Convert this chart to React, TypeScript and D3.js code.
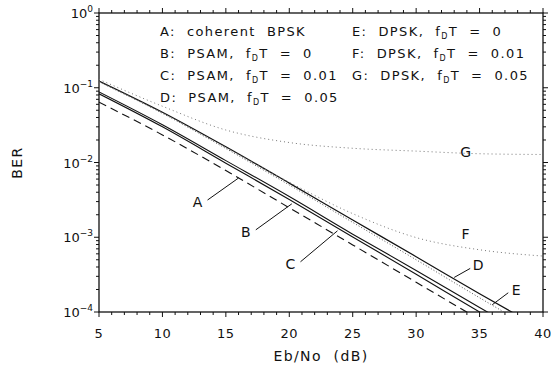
import React from 'react';
import * as d3 from 'd3';

// Eb/No grid (dB) and BER
const ebno = [5, 10, 15, 20, 25, 30, 35, 40];
const berA = [0.064, 0.0234, 0.0078, 0.00248, 0.00079, 0.00025, 0.000079, 0.000025];
const berB = [0.083, 0.030, 0.0098, 0.0032, 0.00101, 0.00032, 0.0001, 0.000032];
const berC = [0.088, 0.032, 0.0106, 0.0035, 0.0011, 0.00036, 0.000115, 0.000037];
const berD = [0.123, 0.047, 0.0162, 0.0053, 0.0017, 0.00055, 0.000175, 0.000058];
const berE = [0.12, 0.0455, 0.0154, 0.005, 0.00158, 0.0005, 0.000155, 0.00005];
const berF = [0.1206, 0.0459, 0.0158, 0.00544, 0.00207, 0.00099, 0.00068, 0.00056];
const berG = [0.1295, 0.0566, 0.0272, 0.0185, 0.0155, 0.0142, 0.0131, 0.0128];

const xTicks = [5, 10, 15, 20, 25, 30, 35, 40];
const yExponents = [0, -1, -2, -3, -4];

const legendLeft = [
  { key: 'A', text: 'coherent  BPSK', fd: null },
  { key: 'B', text: 'PSAM,', fd: '0' },
  { key: 'C', text: 'PSAM,', fd: '0.01' },
  { key: 'D', text: 'PSAM,', fd: '0.05' },
];
const legendRight = [
  { key: 'E', text: 'DPSK,', fd: '0' },
  { key: 'F', text: 'DPSK,', fd: '0.01' },
  { key: 'G', text: 'DPSK,', fd: '0.05' },
];

// label annotations: anchor on curve (dB, BER), label offset in px
const pointers = [
  { label: 'A', db: 16, ber: 0.0062, lx: -41, ly: 24, line: true },
  { label: 'B', db: 20.2, ber: 0.0028, lx: -46, ly: 28, line: true },
  { label: 'C', db: 23.8, ber: 0.00122, lx: -47, ly: 33, line: true },
  { label: 'D', db: 33.0, ber: 0.00029, lx: 24, ly: -12, line: true },
  { label: 'E', db: 36.0, ber: 0.000125, lx: 24, ly: -15, line: true },
  { label: 'F', db: 33.9, ber: 0.0011, lx: 0, ly: 0, line: false },
  { label: 'G', db: 33.9, ber: 0.0138, lx: 0, ly: 0, line: false },
];

const W = 551;
const H = 374;
const m = { left: 99, right: 8, top: 13, bottom: 62 };
const FONT = '"DejaVu Sans", "Liberation Sans", Arial, sans-serif';

export default function App() {
  const x = d3.scaleLinear().domain([5, 40]).range([m.left, W - m.right]);
  const y = d3.scaleLog().domain([1e-4, 1]).range([H - m.bottom, m.top]);
  const [x0, x1] = x.range();
  const [yb, yt] = y.range();

  const line = d3.line<number>()
    .x((_, i) => x(ebno[i]))
    .y((d) => y(d))
    .curve(d3.curveMonotoneX);

  const series = [
    { v: berA, dash: '8,5', stroke: '#111', w: 1.1 },
    { v: berB, dash: null, stroke: '#111', w: 1.1 },
    { v: berC, dash: null, stroke: '#111', w: 1.1 },
    { v: berD, dash: null, stroke: '#111', w: 1.2 },
    { v: berE, dash: '1,2', stroke: '#555', w: 1 },
    { v: berF, dash: '1,3', stroke: '#777', w: 1 },
    { v: berG, dash: '1,3', stroke: '#777', w: 1 },
  ];

  const minorX = d3.range(5, 41, 1).filter((d) => d % 5 !== 0);
  const minorY: number[] = [];
  for (let e = -4; e < 0; e++) for (let k = 2; k <= 9; k++) minorY.push(k * Math.pow(10, e));

  return (
    <svg width={W} height={H} style={{ position: 'absolute', left: 0, top: 0, background: '#fff' }}
      fontFamily={FONT}>
      <defs>
        <clipPath id="plot">
          <rect x={x0} y={yt} width={x1 - x0} height={yb - yt} />
        </clipPath>
      </defs>

      {/* frame */}
      <rect x={x0} y={yt} width={x1 - x0} height={yb - yt} fill="none" stroke="#111" strokeWidth={1.3} />

      {/* x ticks, bottom and top, outward */}
      {xTicks.map((t) => (
        <g key={`xt${t}`} stroke="#111" strokeWidth={1}>
          <line x1={x(t)} x2={x(t)} y1={yb} y2={yb + 5} />
          <line x1={x(t)} x2={x(t)} y1={yt} y2={yt - 5} />
        </g>
      ))}
      {minorX.map((t) => (
        <g key={`xm${t}`} stroke="#111" strokeWidth={1}>
          <line x1={x(t)} x2={x(t)} y1={yb} y2={yb + 3} />
          <line x1={x(t)} x2={x(t)} y1={yt} y2={yt - 3} />
        </g>
      ))}
      {xTicks.map((t) => (
        <text key={`xl${t}`} x={x(t)} y={yb + 26} textAnchor="middle" fontSize={13} fill="#111"
          style={{ letterSpacing: 0.5 }}>{t}</text>
      ))}

      {/* y ticks, left and right, outward */}
      {yExponents.map((e) => (
        <g key={`yt${e}`} stroke="#111" strokeWidth={1}>
          <line x1={x0} x2={x0 - 5} y1={y(Math.pow(10, e))} y2={y(Math.pow(10, e))} />
          <line x1={x1} x2={x1 + 5} y1={y(Math.pow(10, e))} y2={y(Math.pow(10, e))} />
        </g>
      ))}
      {minorY.map((v, i) => (
        <g key={`ym${i}`} stroke="#111" strokeWidth={1}>
          <line x1={x0} x2={x0 - 3} y1={y(v)} y2={y(v)} />
          <line x1={x1} x2={x1 + 3} y1={y(v)} y2={y(v)} />
        </g>
      ))}
      {yExponents.map((e) => (
        <text key={`yl${e}`} x={x0 - 6} y={y(Math.pow(10, e)) + 5} textAnchor="end" fontSize={13} fill="#111">
          10
          <tspan fontSize={9} dy={-6}>{e === 0 ? '0' : `\u2212${-e}`}</tspan>
        </text>
      ))}

      {/* curves */}
      <g clipPath="url(#plot)">
        {series.map((s, i) => (
          <path key={i} d={line(s.v) ?? ''} fill="none" stroke={s.stroke} strokeWidth={s.w}
            strokeDasharray={s.dash ?? undefined} />
        ))}
      </g>

      {/* pointers */}
      {pointers.map((p) => {
        const px = x(p.db);
        const py = y(p.ber);
        return (
          <g key={p.label}>
            {p.line && (
              <line x1={px} y1={py} x2={px + p.lx + (p.lx < 0 ? 10 : -8)} y2={py + p.ly + (p.ly > 0 ? -2 : 3)}
                stroke="#111" strokeWidth={1} />
            )}
            <text x={px + p.lx} y={py + p.ly + 5} textAnchor="middle" fontSize={14} fill="#111">{p.label}</text>
          </g>
        );
      })}

      {/* legend */}
      {legendLeft.map((l, i) => (
        <LegendRow key={l.key} x={160} y={36 + i * 22} k={l.key} text={l.text} fd={l.fd} />
      ))}
      {legendRight.map((l, i) => (
        <LegendRow key={l.key} x={352} y={36 + i * 22} k={l.key} text={l.text} fd={l.fd} />
      ))}

      {/* axis titles */}
      <text x={(x0 + x1) / 2} y={yb + 49} textAnchor="middle" fontSize={14} fill="#111"
        style={{ whiteSpace: 'pre', letterSpacing: 1.4 }}>{'Eb/No  (dB)'}</text>
      <text transform={`translate(22,${(yt + yb) / 2}) rotate(-90)`} textAnchor="middle" fontSize={14}
        fill="#111" style={{ letterSpacing: 1.5 }}>BER</text>
    </svg>
  );
}

function LegendRow({ x, y, k, text, fd }: { x: number; y: number; k: string; text: string; fd: string | null }) {
  return (
    <text x={x} y={y} fontSize={13} fill="#111" style={{ whiteSpace: 'pre', letterSpacing: 1.4 }}>
      {`${k}:  ${text}`}
      {fd !== null && (
        <>
          <tspan>{'  f'}</tspan>
          <tspan fontSize={8} dy={3}>D</tspan>
          <tspan dy={-3}>{`T  =  ${fd}`}</tspan>
        </>
      )}
    </text>
  );
}
